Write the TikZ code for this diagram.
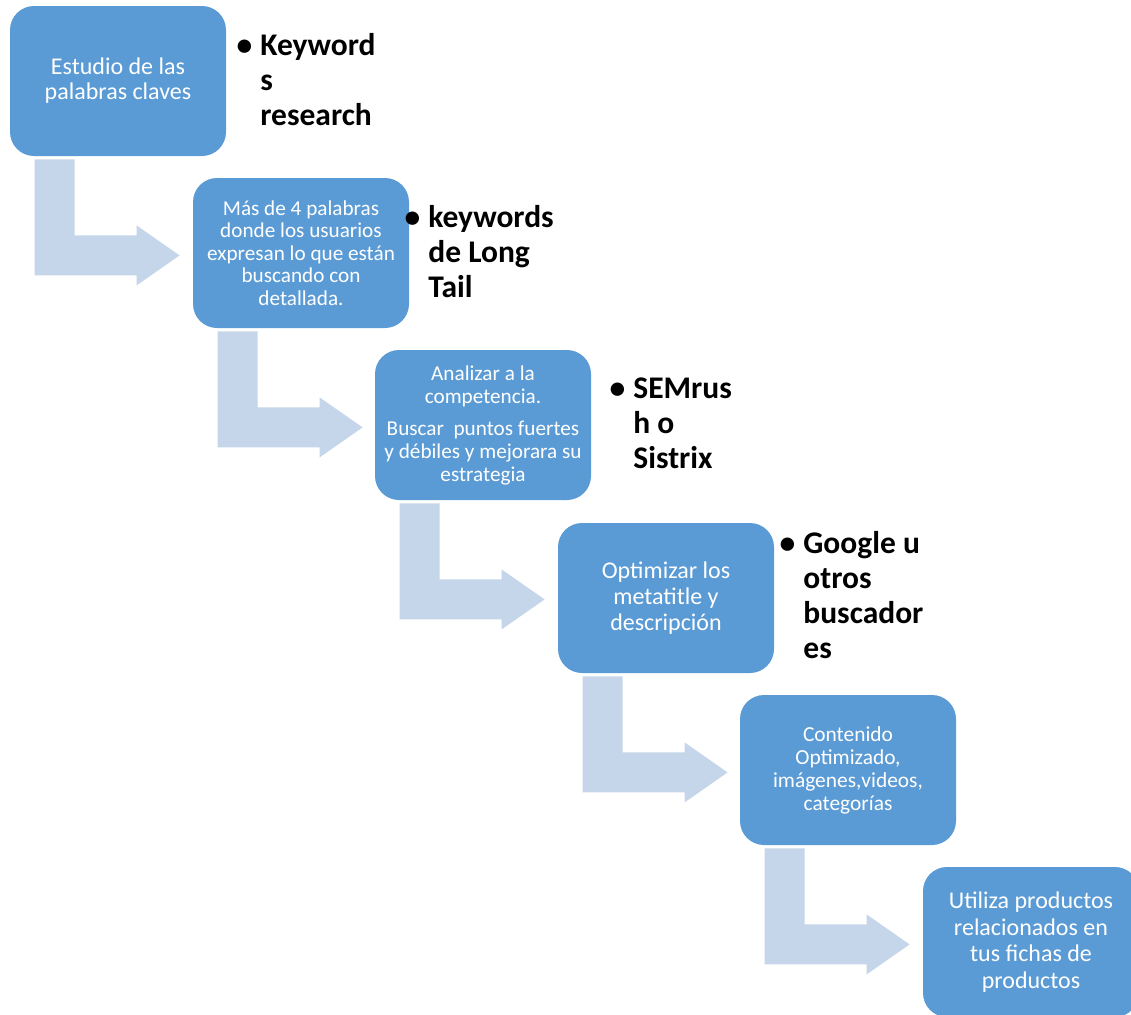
\documentclass[tikz,border=0pt]{standalone}
\usepackage{fontspec}
\setmainfont{Carlito}
\usetikzlibrary{calc}

\definecolor{Step}{HTML}{5B9BD5}
\definecolor{Bend}{HTML}{C5D5EA}

\begin{document}
\begin{tikzpicture}[x=0.5pt, y=-0.5pt,
  stepbox/.style={rounded corners=12pt, fill=Step, text=white, minimum width=108pt, minimum height=75pt, align=center, inner sep=0pt},
  note/.style={anchor=base west, align=left, inner sep=0pt, font=\bfseries\fontsize{15.75}{17.5}\selectfont}]

 \useasboundingbox (0,0) rectangle (1131,1014);
 \clip (0,0) rectangle (1131,1014);

 %%%%%%%%%% Steps %%%%%%%%%%
 \node[stepbox, font=\fontsize{12}{12.5}\selectfont] (s1) at (118,81) {Estudio de las\\palabras claves};
 \node[stepbox, font=\fontsize{10.6}{11.25}\selectfont] (s2) at (301,253) {Más de 4 palabras\\donde los usuarios\\expresan lo que están\\buscando con\\detallada.};
 \node[stepbox, font=\fontsize{10.6}{11.5}\selectfont] (s3) at (483,425) {Analizar a la\\competencia.\\[4.5pt]Buscar~ puntos fuertes\\y débiles y mejorara su\\estrategia};
 \node[stepbox, font=\fontsize{12}{13}\selectfont] (s4) at (666,598) {Optimizar los\\metatitle y\\descripción};
 \node[stepbox, font=\fontsize{10.7}{11.5}\selectfont] (s5) at (848,770) {Contenido\\Optimizado,\\imágenes,videos,\\categorías};
 \node[stepbox, font=\fontsize{12}{13.25}\selectfont] (s6) at (1031,942) {Utiliza productos\\relacionados en\\tus fichas de\\productos};

 %%%%%%%%%% Bent arrows %%%%%%%%%%
 \fill [color=Bend] ($(s1.south west)+(25,3)$) -- ++(40,0) -- ++(0,76) -- ++(62,0) -- ++(0,-10) -- ++(43,30) -- ++(-43,30) -- ++(0,-10) -- ++(-102,0) -- cycle ;
 \fill [color=Bend] ($(s2.south west)+(25,3)$) -- ++(40,0) -- ++(0,76) -- ++(62,0) -- ++(0,-10) -- ++(43,30) -- ++(-43,30) -- ++(0,-10) -- ++(-102,0) -- cycle ;
 \fill [color=Bend] ($(s3.south west)+(25,3)$) -- ++(40,0) -- ++(0,76) -- ++(62,0) -- ++(0,-10) -- ++(43,30) -- ++(-43,30) -- ++(0,-10) -- ++(-102,0) -- cycle ;
 \fill [color=Bend] ($(s4.south west)+(25,3)$) -- ++(40,0) -- ++(0,76) -- ++(62,0) -- ++(0,-10) -- ++(43,30) -- ++(-43,30) -- ++(0,-10) -- ++(-102,0) -- cycle ;
 \fill [color=Bend] ($(s5.south west)+(25,3)$) -- ++(40,0) -- ++(0,76) -- ++(62,0) -- ++(0,-10) -- ++(43,30) -- ++(-43,30) -- ++(0,-10) -- ++(-102,0) -- cycle ;

 %%%%%%%%%% Tools (anchored at last line) %%%%%%%%%%
 \node[note] (k1) at (260,125) {\llap{\textbullet\hspace{4pt}}Keyword\\s\\research};
 \node[note] (k2) at (428,297) {\llap{\textbullet\hspace{4pt}}keywords\\de Long\\Tail};
 \node[note] (k3) at (633,468) {\llap{\textbullet\hspace{4pt}}SEMrus\\h o\\Sistrix};
 \node[note] (k4) at (803,658) {\llap{\textbullet\hspace{4pt}}Google u\\otros\\buscador\\es};

\end{tikzpicture}
\end{document}
